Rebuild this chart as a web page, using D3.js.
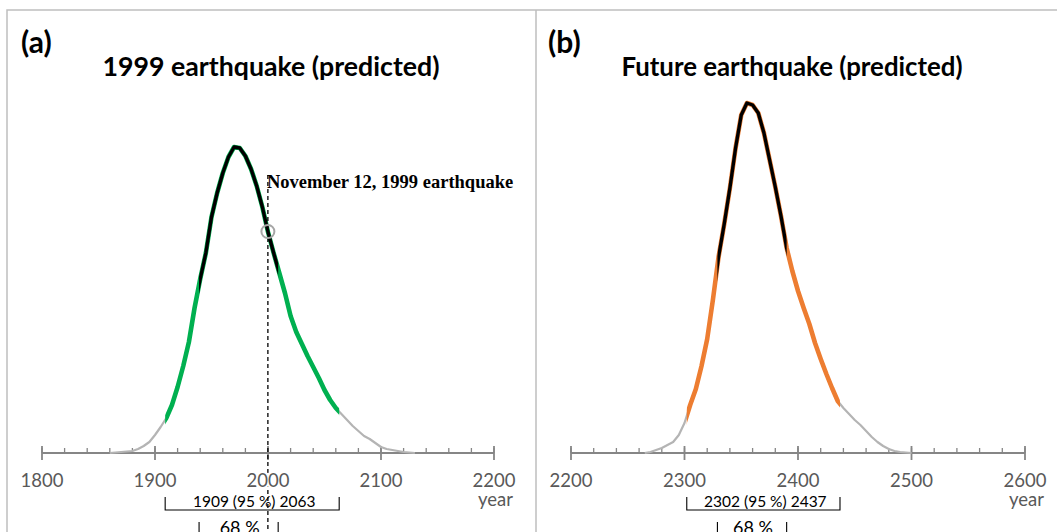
<!DOCTYPE html>
<meta charset="utf-8">
<style>
  body { margin: 0; background: #fff; }
  svg text { font-family: Lato, "Open Sans", sans-serif; }
</style>
<script src="https://d3js.org/d3.v7.min.js"></script>
<body>
<script>

// panel (a): 1999 earthquake, relative probability
var yearsA = [1860,1865,1870,1875,1880,1885,1890,1895,1900,1905,1910,1915,1920,1925,1930,1935,1940,1945,1950,1955,1960,1965,1970,1975,1980,1985,1990,1995,2000,2005,2010,2015,2020,2025,2030,2035,2040,2045,2050,2055,2060,2065,2070,2075,2080,2085,2090,2095,2100,2105,2110,2115,2120,2125,2130];
var probA  = [0,0.5,1,1.5,2,4,7,11,18,26,35,48,66,87,111,145,174,200,236,260,280,296,306,305,297,284,267,246,221,200,180,160,137,121,109,97,86,75,63,53,45,39,33,27,22,17,14,10,6,4,3,2,1,0.5,0];

// panel (b): future earthquake
var yearsB = [2265,2270,2275,2280,2285,2290,2295,2300,2305,2310,2315,2320,2325,2330,2335,2340,2345,2350,2355,2360,2365,2370,2375,2380,2385,2390,2395,2400,2405,2410,2415,2420,2425,2430,2435,2440,2445,2450,2455,2460,2465,2470,2475,2480,2485,2490,2495,2500];
var probB  = [0,1,3,5,8,11,18,30,48,64,87,114,153,196,229,265,305,338,350,348,340,320,293,266,237,205,182,162,145,129,110,94,79,65,52,45,39,33,28,22,16,11,7,4,2,1,0.5,0];

// intervals
var ci95A = [1909, 2063], ci68A = [1939, 2009];
var ci95B = [2302, 2437], ci68B = [2329, 2390];
var eventYear = 1999.9;

var W = 1057, H = 532;
var svg = d3.select("body").append("svg").attr("width", W).attr("height", H);

var y = d3.scaleLinear().domain([0, 400]).range([453, 53]);

// frame
svg.append("path")
    .attr("d", "M7,540 V10 H1070 M536,10 V540")
    .attr("fill", "none").attr("stroke", "#bfbfbf").attr("stroke-width", 1.5);

function drawPanel(opt) {
  var x = d3.scaleLinear().domain(opt.domain).range(opt.range);
  var g = svg.append("g");
  var data = opt.years.map(function(d, i) { return [d, opt.prob[i]]; });
  var line = d3.line().x(function(d) { return x(d[0]); }).y(function(d) { return y(d[1]); });

  // clip rects for the interval colours
  [["95", opt.ci95], ["68", opt.ci68]].forEach(function(c) {
    svg.append("clipPath").attr("id", "clip" + opt.id + c[0])
      .append("rect")
        .attr("x", x(c[1][0])).attr("y", 0)
        .attr("width", x(c[1][1]) - x(c[1][0])).attr("height", H);
  });

  // axis
  var major = d3.range(opt.domain[0], opt.domain[1] + 1, 100);
  var minor = d3.range(opt.domain[0], opt.domain[1] + 1, 20);
  var ax = g.append("g").attr("stroke", "#868686").attr("stroke-width", 1.8);
  ax.append("line").attr("x1", x(opt.domain[0])).attr("x2", x(opt.domain[1]))
      .attr("y1", 453).attr("y2", 453);
  ax.selectAll(".minor").data(minor).enter().append("line")
      .attr("x1", x).attr("x2", x).attr("y1", 448).attr("y2", 453).attr("stroke-width", 1.3);
  ax.selectAll(".major").data(major).enter().append("line")
      .attr("x1", x).attr("x2", x).attr("y1", 446).attr("y2", 460);

  // curve: grey, coloured 95 %, black 68 %
  g.append("path").datum(data).attr("d", line)
      .attr("fill", "none").attr("stroke", "#b4b4b4").attr("stroke-width", 2.2)
      .attr("stroke-linejoin", "round");
  g.append("path").datum(data).attr("d", line)
      .attr("clip-path", "url(#clip" + opt.id + "95)")
      .attr("fill", "none").attr("stroke", opt.color).attr("stroke-width", 4.6)
      .attr("stroke-linejoin", "round");
  g.append("path").datum(data).attr("d", line)
      .attr("clip-path", "url(#clip" + opt.id + "68)")
      .attr("fill", "none").attr("stroke", "#000").attr("stroke-width", 3.4)
      .attr("stroke-linejoin", "round");

  if (opt.event) {
    var ex = x(opt.event);
    g.append("line").attr("x1", ex).attr("x2", ex).attr("y1", 175).attr("y2", 540)
        .attr("stroke", "#000").attr("stroke-width", 1.3).attr("stroke-dasharray", "4,3");
    var idx = d3.bisectLeft(opt.years, opt.event);
    var t = (opt.event - opt.years[idx - 1]) / (opt.years[idx] - opt.years[idx - 1]);
    var ev = opt.prob[idx - 1] + t * (opt.prob[idx] - opt.prob[idx - 1]);
    g.append("circle").attr("cx", ex).attr("cy", y(ev)).attr("r", 6.5)
        .attr("fill", "none").attr("stroke", "#a6a6a6").attr("stroke-width", 2);
    g.append("text").attr("x", ex - 1).attr("y", 188)
        .style("font-family", "'Liberation Serif', 'DejaVu Serif', serif")
        .attr("font-weight", "bold").attr("font-size", 18.5)
        .text(opt.eventLabel);
  }

  // tick labels
  g.selectAll(".tl").data(major).enter().append("text")
      .attr("x", x).attr("y", 487).attr("text-anchor", "middle")
      .attr("font-size", 18.5).attr("fill", "#595959")
      .attr("stroke", "#fff").attr("stroke-width", 4).attr("paint-order", "stroke")
      .text(function(d) { return d; });
  g.append("text").attr("x", x(opt.domain[1]) + 19).attr("y", 506)
      .attr("text-anchor", "end").attr("font-size", 18.5).attr("fill", "#595959")
      .text("year");

  // interval brackets
  var b = g.append("g").attr("stroke", "#000").attr("stroke-width", 1.1).attr("fill", "none");
  b.append("path").attr("d", "M" + x(opt.ci95[0]) + ",497 V510 H" + x(opt.ci95[1]) + " V497");
  b.append("path").attr("d", "M" + x(opt.ci68[0]) + ",522 V545 H" + x(opt.ci68[1]) + " V522");
  g.append("text").attr("x", (x(opt.ci95[0]) + x(opt.ci95[1])) / 2 + 2).attr("y", 507)
      .attr("text-anchor", "middle").attr("font-size", 15.5)
      .text(opt.ci95[0] + " (95 %) " + opt.ci95[1]);
  g.append("text").attr("x", (x(opt.ci68[0]) + x(opt.ci68[1])) / 2 + 1).attr("y", 534)
      .attr("text-anchor", "middle").attr("font-size", 18)
      .text("68 %");

  // labels
  g.append("text").attr("x", opt.letterX).attr("y", 53)
      .attr("font-weight", "bold").attr("font-size", 30).text(opt.letter);
  g.append("text").attr("x", opt.titleX).attr("y", 76).attr("text-anchor", "middle")
      .attr("font-weight", "bold").attr("font-size", 26)
      .attr("textLength", opt.titleW).attr("lengthAdjust", "spacingAndGlyphs")
      .text(opt.title);
}

drawPanel({
  id: "a", domain: [1800, 2200], range: [42, 494],
  years: yearsA, prob: probA, ci95: ci95A, ci68: ci68A, color: "#00b050",
  event: eventYear, eventLabel: "November 12, 1999 earthquake",
  letter: "(a)", letterX: 21, title: "1999 earthquake (predicted)", titleX: 271, titleW: 337
});

drawPanel({
  id: "b", domain: [2200, 2600], range: [571, 1025],
  years: yearsB, prob: probB, ci95: ci95B, ci68: ci68B, color: "#ed7d31",
  letter: "(b)", letterX: 548, title: "Future earthquake (predicted)", titleX: 792, titleW: 341
});

</script>
</body>
